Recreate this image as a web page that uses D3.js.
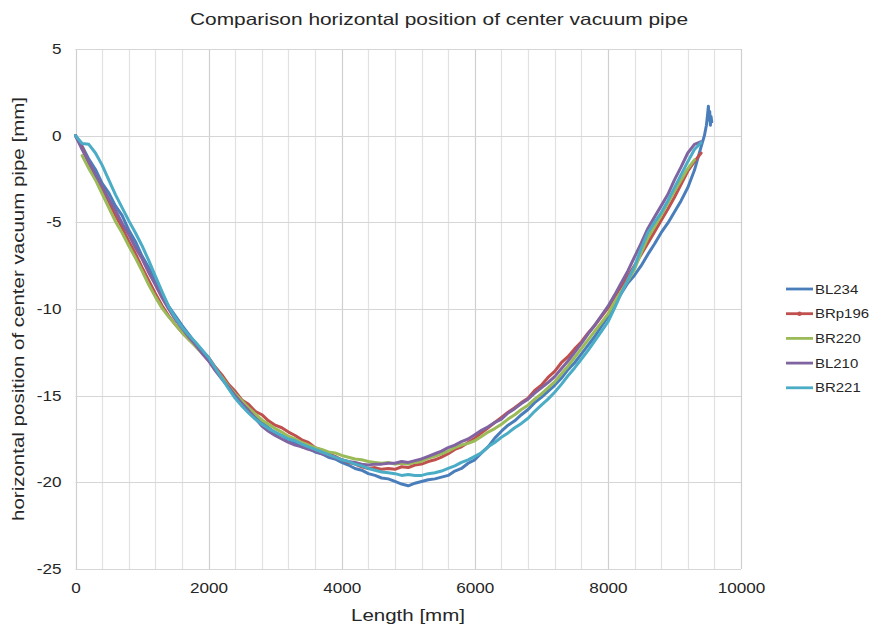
<!DOCTYPE html>
<html>
<head>
<meta charset="utf-8">
<script src="https://cdn.jsdelivr.net/npm/d3@7"></script>
<style>
  body { margin: 0; background: #fff; }
  text { font-family: "Liberation Sans", Arial, sans-serif; fill: #262626; }
</style>
</head>
<body>
<svg id="chart" width="872" height="629"></svg>
<script>
const titleText = "Comparison horizontal position of center vacuum pipe";
const xTitle = "Length [mm]";
const yTitle = "horizontal position of center vacuum pipe [mm]";

const xTicks = [0, 2000, 4000, 6000, 8000, 10000];
const yTicks = [5, 0, -5, -10, -15, -20, -25];

const seriesNames = ["BL234", "BRp196", "BR220", "BL210", "BR221"];
const seriesColors = ["#4a7ebb", "#c0504d", "#9bbb59", "#8064a2", "#4bacc6"];

const lengthMm = [0,100,200,300,400,500,600,700,800,900,1000,1100,1200,1300,1400,1500,1600,1700,1800,1900,
  2000,2100,2200,2300,2400,2500,2600,2700,2800,2900,3000,3100,3200,3300,3400,3500,3600,3700,3800,3900,
  4000,4100,4200,4300,4400,4500,4600,4700,4800,4900,5000,5100,5200,5300,5400,5500,5600,5700,5800,5900,
  6000,6100,6200,6300,6400,6500,6600,6700,6800,6900,7000,7100,7200,7300,7400,7500,7600,7700,7800,7900,
  8000,8100,8200,8300,8400,8500,8600,8700,8800,8900,9000,9100,9200,9300,9400];

const bl234 = [0,-0.6,-1.35,-1.95,-2.75,-3.3,-4.05,-4.6,-5.45,-6.1,-6.95,-7.6,-8.45,-9.15,-9.85,-10.4,-10.95,-11.45,-11.95,-12.4,
  -12.95,-13.45,-14.0,-14.45,-15.0,-15.35,-15.85,-16.15,-16.55,-16.85,-17.15,-17.3,-17.55,-17.7,-17.95,-18.05,-18.25,-18.35,-18.55,-18.65,
  -18.85,-19.0,-19.2,-19.3,-19.5,-19.6,-19.75,-19.8,-19.95,-20.1,-20.2,-20.05,-19.95,-19.85,-19.8,-19.7,-19.6,-19.35,-19.2,-18.9,
  -18.7,-18.3,-17.95,-17.45,-17.05,-16.7,-16.45,-16.1,-15.8,-15.4,-15.1,-14.75,-14.4,-14.0,-13.5,-13.1,-12.6,-12.1,-11.6,-11.0,
  -10.45,-9.7,-9.1,-8.5,-8.05,-7.5,-6.85,-6.25,-5.6,-5.05,-4.4,-3.75,-3.0,-2.0,-0.65];
const bl234TailLength = [9450, 9480, 9500, 9510, 9520, 9530, 9540, 9550, 9560];
const bl234TailValues = [0.0, 0.6, 1.3, 1.7, 0.9, 1.4, 0.6, 1.1, 0.8];

const brp196 = [0,-0.7,-1.6,-2.3,-3.1,-3.8,-4.6,-5.3,-6.1,-6.8,-7.6,-8.35,-9.1,-9.8,-10.4,-10.9,-11.35,-11.75,-12.1,-12.45,
  -12.8,-13.35,-13.8,-14.35,-14.75,-15.25,-15.5,-15.9,-16.1,-16.45,-16.7,-16.85,-17.1,-17.3,-17.55,-17.7,-18.0,-18.15,-18.35,-18.5,
  -18.7,-18.85,-18.95,-19.1,-19.2,-19.15,-19.25,-19.2,-19.25,-19.1,-19.15,-19.0,-18.95,-18.8,-18.7,-18.55,-18.35,-18.1,-17.95,-17.7,
  -17.45,-17.15,-16.85,-16.55,-16.25,-15.95,-15.7,-15.4,-15.15,-14.7,-14.4,-13.95,-13.6,-13.1,-12.75,-12.3,-11.9,-11.4,-10.95,-10.45,
  -9.95,-9.3,-8.7,-8.1,-7.5,-6.85,-6.2,-5.55,-4.9,-4.25,-3.55,-2.8,-2.05,-1.5,-1.0];

const br220 = [null,-1.15,-1.9,-2.55,-3.35,-4.15,-4.95,-5.6,-6.35,-7.05,-7.8,-8.6,-9.3,-9.95,-10.45,-10.9,-11.35,-11.75,-12.15,-12.55,
  -12.95,-13.45,-13.95,-14.45,-14.9,-15.3,-15.7,-16.05,-16.4,-16.65,-16.9,-17.1,-17.35,-17.5,-17.7,-17.85,-18.0,-18.1,-18.25,-18.3,
  -18.45,-18.55,-18.65,-18.7,-18.8,-18.85,-18.9,-18.85,-18.95,-18.9,-18.95,-18.85,-18.8,-18.6,-18.5,-18.35,-18.2,-18.0,-17.85,-17.75,
  -17.6,-17.35,-17.1,-16.9,-16.65,-16.35,-16.1,-15.8,-15.55,-15.2,-14.9,-14.55,-14.2,-13.75,-13.3,-12.8,-12.3,-11.8,-11.3,-10.8,
  -10.3,-9.6,-9.0,-8.35,-7.7,-6.75,-5.9,-5.25,-4.6,-3.9,-3.2,-2.55,-1.9,-1.4,null];

const bl210 = [0,-0.8,-1.5,-2.25,-2.9,-3.65,-4.3,-5.05,-5.7,-6.45,-7.1,-7.9,-8.6,-9.35,-10.0,-10.6,-11.1,-11.6,-12.05,-12.55,
  -13.0,-13.55,-14.05,-14.5,-15.0,-15.45,-15.85,-16.3,-16.75,-17.05,-17.3,-17.5,-17.7,-17.85,-17.95,-18.1,-18.2,-18.35,-18.45,-18.6,
  -18.7,-18.8,-18.85,-18.95,-19.0,-18.95,-18.95,-18.9,-18.9,-18.8,-18.85,-18.75,-18.65,-18.5,-18.35,-18.2,-18.0,-17.85,-17.65,-17.5,
  -17.25,-17.0,-16.8,-16.55,-16.35,-16.0,-15.75,-15.45,-15.2,-14.85,-14.55,-14.25,-13.9,-13.45,-13.0,-12.5,-12.0,-11.45,-10.95,-10.4,
  -9.85,-9.2,-8.5,-7.8,-7.0,-6.2,-5.35,-4.7,-4.05,-3.4,-2.55,-1.8,-1.0,-0.5,-0.35];

const br221 = [0,-0.45,-0.5,-1.0,-1.7,-2.55,-3.4,-4.15,-4.9,-5.6,-6.35,-7.2,-8.1,-9.0,-9.85,-10.5,-11.05,-11.5,-11.9,-12.35,
  -12.8,-13.4,-14.0,-14.6,-15.15,-15.6,-16.0,-16.35,-16.65,-16.9,-17.1,-17.3,-17.5,-17.6,-17.8,-17.95,-18.1,-18.25,-18.4,-18.55,
  -18.7,-18.8,-18.95,-19.05,-19.2,-19.3,-19.4,-19.45,-19.5,-19.6,-19.55,-19.6,-19.6,-19.5,-19.45,-19.35,-19.2,-19.05,-18.85,-18.7,
  -18.5,-18.3,-17.95,-17.7,-17.4,-17.15,-16.85,-16.6,-16.3,-15.9,-15.55,-15.2,-14.8,-14.35,-13.85,-13.4,-12.9,-12.4,-11.85,-11.3,
  -10.75,-9.95,-9.1,-8.3,-7.55,-6.5,-5.6,-5.0,-4.45,-3.75,-3.0,-2.25,-1.5,-0.8,-0.4];

function toPoints(xs, ys) {
  return xs.map((x, i) => ({ x: x, y: ys[i] })).filter(d => d.y !== null);
}

// the reference text is drawn a bit wider than the font's natural width
function stretch(sel, factor) {
  sel.each(function() {
    const len = this.getComputedTextLength();
    d3.select(this)
      .attr("textLength", len * factor)
      .attr("lengthAdjust", "spacingAndGlyphs");
  });
}

const series = [
  toPoints(lengthMm.concat(bl234TailLength), bl234.concat(bl234TailValues)),
  toPoints(lengthMm, brp196),
  toPoints(lengthMm, br220),
  toPoints(lengthMm, bl210),
  toPoints(lengthMm, br221)
];

const svg = d3.select("#chart");
const margin = { left: 75.5, right: 131, top: 49, bottom: 60 };
const width = +svg.attr("width");
const height = +svg.attr("height");

const x = d3.scaleLinear().domain([0, 10000]).range([margin.left, width - margin.right]);
const y = d3.scaleLinear().domain([-25, 5]).range([height - margin.bottom, margin.top]);

// gridlines: minor every 400 mm, major every 2000 mm
const vGrid = d3.range(0, 10001, 400);
svg.append("g")
  .selectAll("line")
  .data(vGrid)
  .enter().append("line")
    .attr("x1", d => Math.round(x(d)) + 0.5)
    .attr("x2", d => Math.round(x(d)) + 0.5)
    .attr("y1", y(5))
    .attr("y2", y(-25))
    .attr("stroke", d => d % 2000 === 0 ? "#cfcfcf" : "#e2e2e2")
    .attr("stroke-width", 1.2);

svg.append("g")
  .selectAll("line")
  .data(yTicks)
  .enter().append("line")
    .attr("x1", x(0))
    .attr("x2", x(10000))
    .attr("y1", d => Math.round(y(d)) + 0.5)
    .attr("y2", d => Math.round(y(d)) + 0.5)
    .attr("stroke", "#d6d6d6")
    .attr("stroke-width", 1.2);

// axes (labels only)
const fmt = d => String(d);

const xAxis = svg.append("g")
  .attr("transform", `translate(0, ${y(-25)})`)
  .call(d3.axisBottom(x).tickValues(xTicks).tickFormat(fmt).tickSize(0).tickPadding(14));
xAxis.select(".domain").remove();
xAxis.selectAll("text").style("font-size", "14.5px").attr("fill", "#262626").call(stretch, 1.18);

const yAxis = svg.append("g")
  .attr("transform", `translate(${x(0)}, 0)`)
  .call(d3.axisLeft(y).tickValues(yTicks).tickFormat(fmt).tickSize(0).tickPadding(14));
yAxis.select(".domain").remove();
yAxis.selectAll("text").style("font-size", "14.5px").attr("fill", "#262626").call(stretch, 1.18);

// series lines
const line = d3.line()
  .x(d => x(d.x))
  .y(d => y(d.y));

svg.append("g")
  .selectAll("path")
  .data(series)
  .enter().append("path")
    .attr("fill", "none")
    .attr("stroke", (d, i) => seriesColors[i])
    .attr("stroke-width", 3)
    .attr("stroke-linejoin", "round")
    .attr("stroke-linecap", "round")
    .attr("d", line);

// titles
svg.append("text")
  .attr("x", 439).attr("y", 25)
  .attr("text-anchor", "middle")
  .attr("textLength", 498)
  .attr("lengthAdjust", "spacingAndGlyphs")
  .style("font-size", "16.5px")
  .text(titleText);

svg.append("text")
  .attr("x", 408).attr("y", 621)
  .attr("text-anchor", "middle")
  .attr("textLength", 114)
  .attr("lengthAdjust", "spacingAndGlyphs")
  .style("font-size", "17px")
  .text(xTitle);

svg.append("text")
  .attr("transform", `translate(24, ${(y(5) + y(-25)) / 2}) rotate(-90)`)
  .attr("text-anchor", "middle")
  .attr("textLength", 424)
  .attr("lengthAdjust", "spacingAndGlyphs")
  .style("font-size", "17px")
  .text(yTitle);

// legend
const legend = svg.append("g")
  .selectAll("g")
  .data(seriesNames)
  .enter().append("g")
    .attr("transform", (d, i) => `translate(786, ${289 + i * 24.7})`);

legend.append("line")
  .attr("x1", 0).attr("x2", 27)
  .attr("stroke", (d, i) => seriesColors[i])
  .attr("stroke-width", 2.8);

legend.filter((d, i) => i === 1).append("circle")
  .attr("cx", 13.5).attr("r", 2.2)
  .attr("fill", seriesColors[1]);

legend.append("text")
  .attr("x", 29).attr("dy", "0.35em")
  .style("font-size", "13px")
  .text(d => d)
  .call(stretch, 1.15);
</script>
</body>
</html>
